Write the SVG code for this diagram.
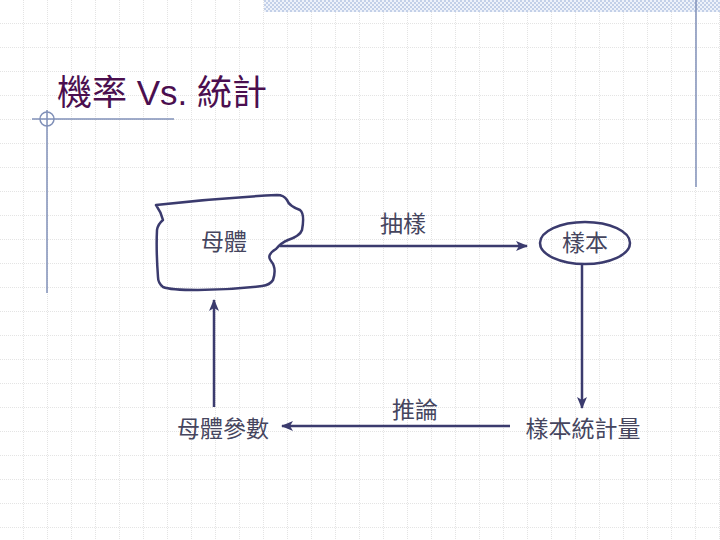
<svg xmlns="http://www.w3.org/2000/svg" width="720" height="540" viewBox="0 0 720 540">
<defs>
<pattern id="grid" width="24" height="24" patternUnits="userSpaceOnUse">
<path d="M24 0V24M0 24H24" fill="none" stroke="#c8c8c8" stroke-width="1" stroke-dasharray="1,1"/>
</pattern>
<pattern id="checker" width="4" height="4" patternUnits="userSpaceOnUse">
<rect width="4" height="4" fill="#eef2fa"/>
<rect width="2" height="2" fill="#c3d0e8"/>
<rect x="2" y="2" width="2" height="2" fill="#c3d0e8"/>
</pattern>
<marker id="arr" viewBox="0 0 12 10" refX="11" refY="5" markerWidth="12" markerHeight="10" markerUnits="userSpaceOnUse" orient="auto">
<path d="M0 0L12 5L0 10L3 5Z" fill="#3b3b6e"/>
</marker>
<style>
.lbl{font-family:"Liberation Sans","Noto Sans CJK TC",sans-serif;font-size:23px;fill:#45455e}
.ttl{font-family:"Liberation Sans","Noto Sans CJK TC",sans-serif;font-size:35px;fill:#4b0f4f}
.con{fill:none;stroke:#3b3b6e;stroke-width:2.5}
.deco{fill:none;stroke:#8090b8;stroke-width:1.5}
</style>
</defs>
<rect width="720" height="540" fill="#fff"/>
<rect width="720" height="540" fill="url(#grid)"/>
<rect x="264" y="0" width="456" height="12" fill="url(#checker)"/>
<g id="decor">
<line class="deco" x1="696" y1="0" x2="696" y2="187"/>
<line class="deco" x1="32" y1="119" x2="174" y2="119"/>
<line class="deco" x1="47" y1="110" x2="47" y2="293"/>
<circle class="deco" cx="47" cy="119" r="7"/>
</g>
<text class="ttl" x="57" y="105">機率 Vs. 統計</text>
<g id="population">
<path class="con" stroke-linejoin="round" d="M156 205 Q216 198 277 195 Q284 195 287 200 Q289 206 300 210 Q305 214 302 230 Q300 236 288 240 Q281 243 276 249 Q266 255 271 261 Q277 268 273 280 Q270 285 262 286 Q230 290 198 290 Q170 290 163 287 Q158 283 158 277 Q156 250 157 230 Q158 224 163 220 Q161 212 156 205 Z"/>
<text class="lbl" x="224" y="250" text-anchor="middle">母體</text>
</g>
<g id="sample">
<ellipse class="con" cx="585" cy="243" rx="45" ry="21"/>
<text class="lbl" x="585" y="251" text-anchor="middle">樣本</text>
</g>
<g id="statistic">
<text class="lbl" x="583" y="437" text-anchor="middle">樣本統計量</text>
</g>
<g id="parameter">
<text class="lbl" x="223" y="437" text-anchor="middle">母體參數</text>
</g>
<g id="connectors">
<line class="con" x1="280" y1="246" x2="527" y2="246" marker-end="url(#arr)"/>
<text class="lbl" x="403" y="232" text-anchor="middle">抽樣</text>
<line class="con" x1="582" y1="264" x2="582" y2="408" marker-end="url(#arr)"/>
<line class="con" x1="510" y1="426" x2="282" y2="426" marker-end="url(#arr)"/>
<text class="lbl" x="415" y="418" text-anchor="middle">推論</text>
<line class="con" x1="214" y1="407" x2="214" y2="300" marker-end="url(#arr)"/>
</g>
</svg>
